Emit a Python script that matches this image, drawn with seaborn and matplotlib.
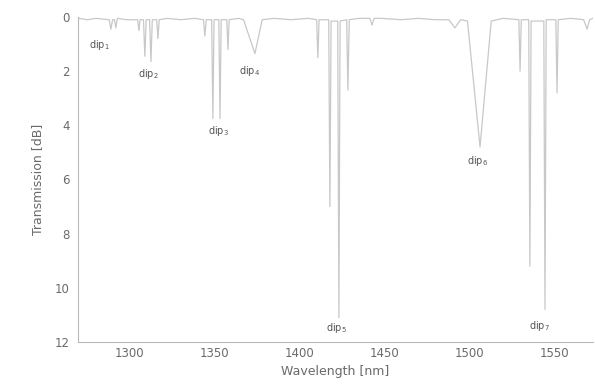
import matplotlib
matplotlib.use("Agg")
import matplotlib.pyplot as plt
import seaborn as sns
import pandas as pd

wavelength = [1270, 1275, 1280, 1287.8, 1288.8, 1289.8, 1290.9, 1291.7, 1292.6, 1298, 1303,
              1304.6, 1305.3, 1306.0, 1308.0, 1308.8, 1309.6, 1311.6, 1312.4, 1313.2, 1315.8, 1316.5,
              1317.3, 1322, 1330, 1338, 1343.4, 1344.2, 1345.0, 1348.2, 1348.9, 1349.6,
              1352.4, 1353.1, 1353.8, 1357.1, 1357.8, 1358.5, 1364, 1367, 1373.7, 1378,
              1385, 1395, 1405, 1410.1, 1410.8, 1411.5, 1417.2, 1417.9, 1418.6, 1422.5,
              1423.2, 1423.9, 1427.8, 1428.5, 1429.3, 1435, 1441.5, 1442.7, 1444, 1448, 1460, 1470,
              1480, 1488, 1491.6, 1495, 1499, 1506.4, 1513, 1520, 1529.3, 1530,
              1530.7, 1535.1, 1535.8, 1536.5, 1544.0, 1544.7, 1545.4, 1551.1, 1551.8, 1552.5,
              1560, 1567.5, 1569.5, 1571, 1573]
loss_db = [0.05, 0.1, 0.05, 0.1, 0.45, 0.1, 0.1, 0.4, 0.05, 0.1, 0.1,
           0.1, 0.5, 0.1, 0.1, 1.45, 0.1, 0.1, 1.65, 0.1, 0.1, 0.8,
           0.1, 0.05, 0.1, 0.05, 0.1, 0.7, 0.1, 0.1, 3.75, 0.1,
           0.1, 3.75, 0.1, 0.1, 1.2, 0.1, 0.05, 0.1, 1.35, 0.1,
           0.05, 0.1, 0.05, 0.1, 1.5, 0.1, 0.1, 7.0, 0.15, 0.15,
           11.1, 0.15, 0.1, 2.7, 0.1, 0.05, 0.05, 0.3, 0.05, 0.05, 0.1, 0.05,
           0.1, 0.1, 0.4, 0.1, 0.15, 4.8, 0.15, 0.05, 0.1, 2.0,
           0.1, 0.1, 9.2, 0.15, 0.15, 10.8, 0.1, 0.1, 2.8, 0.1,
           0.05, 0.1, 0.45, 0.1, 0.05]

dip_labels = ["dip$_1$", "dip$_2$", "dip$_3$", "dip$_4$", "dip$_5$", "dip$_6$", "dip$_7$"]
dip_label_x = [1282, 1310.6, 1352, 1370.8, 1422, 1505, 1541.7]
dip_label_y = [1.05, 2.1, 4.2, 2.0, 11.5, 5.3, 11.4]

x_ticks = [1300, 1350, 1400, 1450, 1500, 1550]
y_ticks = [0, 2, 4, 6, 8, 10, 12]

sns.set_style("white")
plt.rcParams['font.family'] = ['DejaVu Sans']

df = pd.DataFrame({"Wavelength": wavelength, "Loss": loss_db})

fig = plt.figure(figsize=(5.95, 3.87), dpi=100)
ax = fig.add_axes([78 / 595, (387 - 342) / 387, (593 - 78) / 595, (342 - 17) / 387])
sns.lineplot(data=df, x="Wavelength", y="Loss", sort=False, color="#c8c8c8",
             linewidth=0.9, ax=ax)

ax.set_xlim(1269.4, 1573)
ax.set_ylim(12, 0)
ax.set_xticks(x_ticks)
ax.set_yticks(y_ticks)

txt = "#6a6a6a"
ax.tick_params(axis="both", labelsize=8.5, colors="#b0b0b0", labelcolor=txt,
               length=2.5, width=0.6)
ax.tick_params(axis="x", length=0)
for s in ["top", "right"]:
    ax.spines[s].set_visible(False)
for s in ["left", "bottom"]:
    ax.spines[s].set_color("#b8b8b8")
    ax.spines[s].set_linewidth(0.8)

ax.set_xlabel("Wavelength [nm]", fontsize=9, color=txt, labelpad=4)
ax.set_ylabel("Transmission [dB]", fontsize=9, color=txt, labelpad=8)

for lab, lx, ly in zip(dip_labels, dip_label_x, dip_label_y):
    ax.text(lx, ly, lab, fontsize=7, color="#555555", ha="center", va="center")

fig.savefig("out.png", dpi=100)
